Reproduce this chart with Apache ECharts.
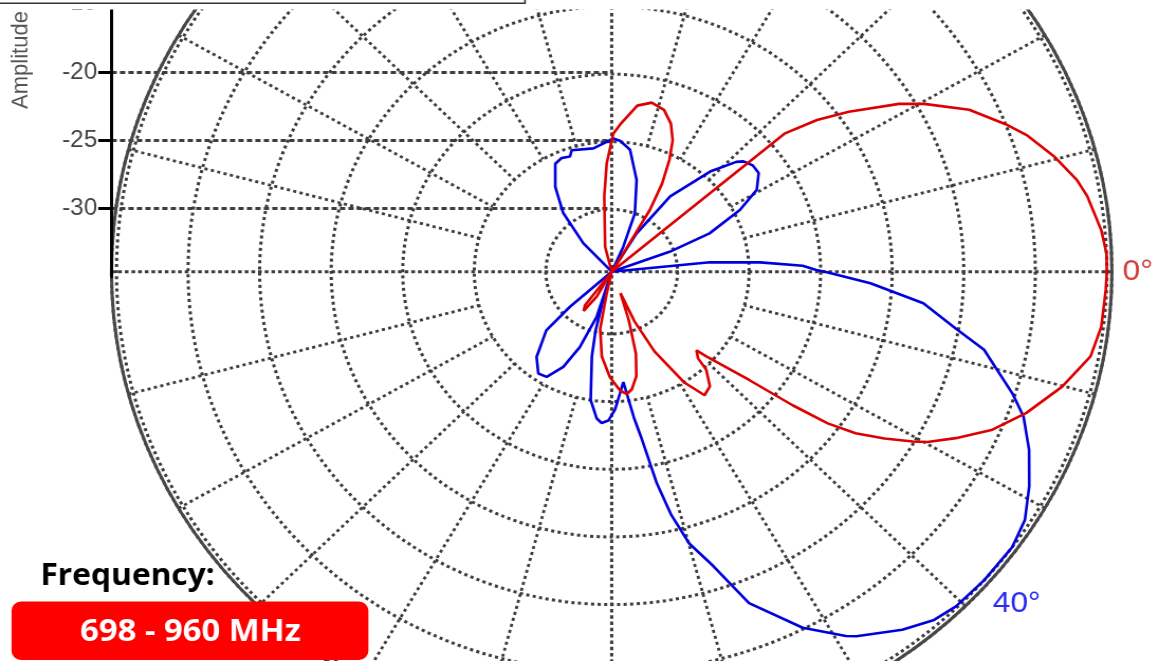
<!DOCTYPE html>
<html>
<head>
<meta charset="utf-8">
<script src="https://cdn.jsdelivr.net/npm/echarts@6/dist/echarts.min.js"></script>
<style>
html,body{margin:0;padding:0;background:#fff;overflow:hidden;width:1158px;height:661px;}
#wrap{width:1158px;height:661px;overflow:hidden;position:relative;background:#fff;}
#chart{position:absolute;left:0;top:0;width:1095px;height:661px;transform:scaleX(1.0575);transform-origin:0 0;}
</style>
</head>
<body>
<div id="wrap"><div id="chart"></div></div>
<script>
// ---- data (dB, angle in degrees, 0 = horizon, positive = below horizon) ----
const amplitudeTicks = [-30, -25, -20, -15];
const radialMin = -34.6;
const radialMax = 0.35;

const redAngles = [0, 2.2, 6.8, 10.6, 15.1, 19.8, 23.8, 27.1, 29.7, 30.8, 32.9, 35.0, 36.6, 38.0, 39.8, 43.4, 44.5, 46.7, 47.6, 51.0, 54.6, 58.3, 63.1, 66.5, 68.9, 71.6, 74.4, 77.4, 80.8, 83.3, 86.2, 90.9, 96.3, 100.8, 102.3, 104, 117, 119.6, 124, 127, 130, 250, 256, 264.7, 267.5, 270.6, 273.5, 278.3, 282.6, 287, 290.7, 293.7, 296, 298.4, 300.3, 300.5, 301.5, 303, 318, 319.8, 322, 324.5, 328.3, 330.4, 334.4, 338.4, 340.8, 344.7, 348.2, 350.5, 354.9, 357.8, 360];
const redDb = [0.0, -0.05, -0.15, -0.56, -2.0, -3.8, -5.6, -7.6, -9.2, -10.1, -11.9, -13.8, -15.8, -18.6, -22.1, -25.5, -26.3, -25.8, -24.8, -23.7, -23.4, -25.0, -28.0, -30.6, -32.9, -30.8, -28.3, -26.7, -25.8, -25.5, -25.8, -26.8, -28.3, -30.3, -33.0, -34.6, -34.6, -32.5, -31.1, -31.5, -34.6, -34.6, -32.7, -29.0, -26.6, -24.4, -23.6, -22.2, -21.8, -22.1, -22.9, -24.0, -25.4, -27.2, -29.3, -31.3, -33.3, -34.6, -34.6, -18.8, -16.4, -14.25, -11.0, -9.5, -6.9, -5.0, -3.9, -2.5, -1.4, -0.9, -0.25, 0.0, 0.0];

const blueAngles = [0, 2.7, 6.1, 9.9, 12.5, 17.8, 20.4, 24.3, 28.5, 32.4, 36.0, 41.2, 45.8, 48.8, 52.5, 57.6, 58.7, 63.1, 68.6, 71.9, 74.9, 77.0, 78.6, 80.3, 81.8, 83.3, 84.3, 86.3, 88.7, 91.2, 93.6, 95.5, 98.8, 102.5, 104.5, 105.7, 106.3, 107.5, 111.8, 115.7, 120.3, 124.3, 129.8, 136.5, 138.4, 140.5, 222, 226.7, 232, 237.8, 243.7, 247.4, 251.1, 252.7, 262, 267.9, 270.6, 273.4, 278.1, 284.4, 290.6, 293.7, 297, 301.6, 306.3, 312.9, 317, 318.5, 321.4, 324.6, 329.2, 333, 337.5, 340, 342.5, 354.2, 356.2, 358.1, 359.5, 360];
const blueDb = [-19.7, -16.5, -12.7, -10.2, -7.95, -5.2, -3.9, -2.6, -1.4, -0.4, 0.0, 0.0, -0.1, -0.4, -1.25, -2.7, -3.1, -5.1, -8.3, -11.7, -13.8, -16.2, -18.65, -22.0, -23.7, -25.5, -26.4, -25.6, -24.4, -23.6, -23.4, -23.7, -25.0, -28.2, -30.1, -32.2, -34.6, -31.1, -28.6, -26.8, -25.6, -25.5, -26.4, -28.3, -30.7, -34.6, -34.6, -31.7, -29.1, -27.2, -25.7, -25.5, -25.6, -25.2, -25.4, -25.0, -24.75, -24.9, -25.5, -27.6, -30.0, -32.6, -34.6, -31.3, -27.7, -24.5, -22.7, -22.3, -22.0, -22.0, -22.8, -24.55, -27.2, -30.3, -34.6, -27.7, -24.2, -21.25, -20.3, -19.7];

// ---- layout (chart drawn in an unstretched frame, then widened like the reference) ----
const S = 1158 / 1095;
const CX = 611.7 / S, CY = 271.7, R = 473;
const K = R / (radialMax - radialMin);
const RING2 = (-25 - radialMin) * K;
const KY = 13.64;          // px per dB on the left amplitude axis
const Y_BOTTOM = 276.9;    // pixel row of -35 dB on the left axis
const yAxisMax = -35 + Y_BOTTOM / KY;

function zip(vals, angs) { return vals.map((v, i) => [v, angs[i]]); }

const chart = echarts.init(document.getElementById('chart'), null, {renderer: 'canvas'});
const grey = '#3d3d3d';
const option = {
  animation: false,
  backgroundColor: '#fff',
  polar: [
    {center: [CX, CY], radius: [0, R]},
    {center: [CX, CY], radius: [RING2, R]}
  ],
  angleAxis: [
    {polarIndex: 0, type: 'value', min: 0, max: 360, interval: 90, startAngle: 0, clockwise: true,
     axisLine: {show: true, lineStyle: {color: '#474747', width: 3}},
     axisTick: {show: false}, axisLabel: {show: false},
     splitLine: {show: true, lineStyle: {color: grey, width: 3, type: [3.5, 2.8]}}},
    {polarIndex: 1, type: 'value', min: 0, max: 360, interval: 15, startAngle: 0, clockwise: true,
     axisLine: {show: false}, axisTick: {show: false}, axisLabel: {show: false},
     splitLine: {show: true, lineStyle: {color: ['rgba(0,0,0,0)', grey, grey, grey, grey, grey], width: 2.8, type: [3, 3.2]}}}
  ],
  radiusAxis: [
    {polarIndex: 0, type: 'value', min: radialMin, max: radialMax, splitNumber: 7,
     axisLine: {show: false}, axisTick: {show: false}, axisLabel: {show: false},
     splitLine: {show: true, lineStyle: {color: grey, width: 3, type: [3, 3.2]}}},
    {polarIndex: 1, type: 'value', min: 0, max: 1, show: false,
     axisLine: {show: false}, axisTick: {show: false}, axisLabel: {show: false}, splitLine: {show: false}}
  ],
  grid: {left: CX - R, top: 0, width: R, height: Y_BOTTOM, containLabel: false, outerBoundsMode: 'none'},
  xAxis: {type: 'value', min: 0, max: 1, show: false},
  yAxis: {
    type: 'value', min: -35, max: yAxisMax, interval: 5, position: 'left',
    axisLine: {show: true, onZero: false, lineStyle: {color: '#000', width: 3}},
    axisTick: {show: true, length: 12.5, lineStyle: {color: '#000', width: 3}, customValues: amplitudeTicks},
    axisLabel: {show: true, margin: 13.5, fontSize: 23, fontFamily: 'Liberation Sans', color: '#444', customValues: amplitudeTicks},
    splitLine: {show: true, lineStyle: {color: grey, width: 3, type: [5, 3]}}
  },
  series: [
    {name: '40°', type: 'line', coordinateSystem: 'polar', polarIndex: 0, data: zip(blueDb, blueAngles),
     symbol: 'none', showSymbol: false, smooth: false, clip: false, z: 5,
     lineStyle: {color: '#0000dd', width: 2.6}},
    {name: '0°', type: 'line', coordinateSystem: 'polar', polarIndex: 0, data: zip(redDb, redAngles),
     symbol: 'none', showSymbol: false, smooth: false, clip: false, z: 6,
     lineStyle: {color: '#dd0000', width: 2.6}}
  ],
  graphic: [
    {type: 'text', z: 100, x: 21 / S, y: 60, rotation: Math.PI / 2,
     style: {text: 'Amplitude', font: '22px "Liberation Sans"', fill: '#555', align: 'center', verticalAlign: 'middle'}},
    {type: 'text', z: 100, x: 1122.7 / S, y: 271.5,
     style: {text: '0°', font: '30px "Liberation Sans"', fill: '#d23c3c', align: 'left', verticalAlign: 'middle'}},
    {type: 'text', z: 100, x: 992.7 / S, y: 604,
     style: {text: '40°', font: '30px "Liberation Sans"', fill: '#2a2af0', align: 'left', verticalAlign: 'middle'}},
    {type: 'text', z: 100, x: 127.6 / S, y: 576,
     style: {text: 'Frequency:', font: 'bold 30px "Open Sans"', fill: '#000', align: 'center', verticalAlign: 'middle'}},
    {type: 'rect', z: 100, shape: {x: 11.5 / S, y: 601.5, width: (368.4 - 11.5) / S, height: 58.5, r: 9},
     style: {fill: '#ff0000'}},
    {type: 'text', z: 101, x: 190.4 / S, y: 632,
     style: {text: '698 - 960 MHz', font: 'bold 31px "Open Sans"', fill: '#fff', align: 'center', verticalAlign: 'middle'}},
    {type: 'rect', z: 110, shape: {x: -5, y: -10, width: 1110, height: 19.5}, style: {fill: '#fff'}},
    {type: 'polyline', z: 111, shape: {points: [[-2, 3.3], [525 / S, 3.3], [525 / S, -6]]},
     style: {stroke: '#333', lineWidth: 1.6, fill: null}}
  ]
};
chart.setOption(option);
</script>
</body>
</html>
